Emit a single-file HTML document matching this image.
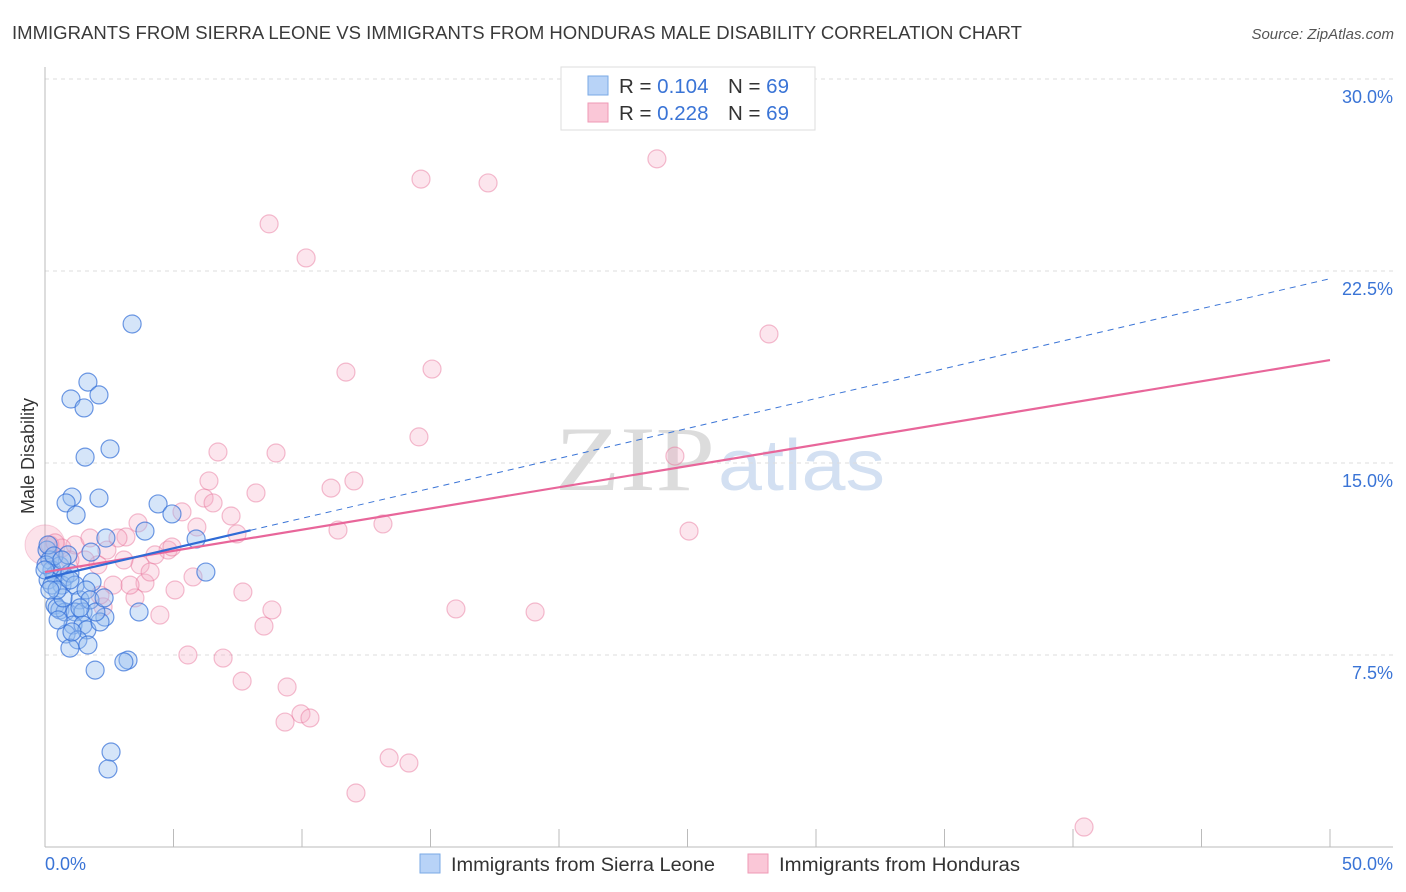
<!DOCTYPE html>
<html><head><meta charset="utf-8">
<style>
body{margin:0;background:#fff;font-family:"Liberation Sans",sans-serif;}
#wrap{position:relative;width:1406px;height:892px;overflow:hidden;}
</style></head>
<body>
<div id="wrap">
<svg id="svg" width="1406" height="892" xmlns="http://www.w3.org/2000/svg">
<text x="12" y="39" font-size="18" fill="#3a3a3a" textLength="1010" lengthAdjust="spacingAndGlyphs">IMMIGRANTS FROM SIERRA LEONE VS IMMIGRANTS FROM HONDURAS MALE DISABILITY CORRELATION CHART</text>
<text x="1394" y="39" font-size="15" fill="#555" font-style="italic" text-anchor="end">Source: ZipAtlas.com</text>
<text x="34" y="456" font-size="18" fill="#333" text-anchor="middle" transform="rotate(-90 34 456)">Male Disability</text>
<g id="watermark">
<text x="555" y="490" font-size="92" fill="#dcdcdc" font-family="Liberation Serif,serif" textLength="160" lengthAdjust="spacingAndGlyphs">ZIP</text>
<text x="718" y="490" font-size="72" fill="#d3e0f2" textLength="167" lengthAdjust="spacingAndGlyphs">atlas</text>
</g>
<g id="grid"></g><g id="axes"></g><g id="pts"></g><g id="lines"></g>
<g>
<rect x="561" y="67" width="254" height="63" fill="#fff" stroke="#ddd"/>
<rect x="588" y="76" width="20" height="19" fill="#b8d3f7" stroke="#7aa9e6"/>
<rect x="588" y="103" width="20" height="19" fill="#fac7d7" stroke="#ef9ab6"/>
<text x="619" y="93" font-size="20.5" fill="#333">R = <tspan fill="#3a74d6">0.104</tspan></text>
<text x="728" y="93" font-size="20.5" fill="#333">N = <tspan fill="#3a74d6">69</tspan></text>
<text x="619" y="120" font-size="20.5" fill="#333">R = <tspan fill="#3a74d6">0.228</tspan></text>
<text x="728" y="120" font-size="20.5" fill="#333">N = <tspan fill="#3a74d6">69</tspan></text>
</g>
<g>
<rect x="420" y="854" width="20" height="19" fill="#b8d3f7" stroke="#7aa9e6"/>
<text x="451" y="871" font-size="19" fill="#333" textLength="264" lengthAdjust="spacingAndGlyphs">Immigrants from Sierra Leone</text>
<rect x="748" y="854" width="20" height="19" fill="#fac7d7" stroke="#ef9ab6"/>
<text x="779" y="871" font-size="19" fill="#333" textLength="241" lengthAdjust="spacingAndGlyphs">Immigrants from Honduras</text>
</g>
</svg>
</div>
<script>
const yTicks=[7.5,15,22.5,30];
const yTickLabels=["7.5%","15.0%","22.5%","30.0%"];
const xTickLabels=["0.0%","50.0%"];
const blueX=[3.39,1.67,1.01,2.1,1.52,2.53,1.56,2.1,1.05,0.82,1.21,4.4,4.94,3.89,2.37,1.79,5.88,6.26,0.08,0.19,0.27,0.39,0.58,0.78,0.12,0.66,0.97,1.17,1.36,1.83,0.39,0.58,0.78,0.47,1.17,1.48,1.09,1.48,1.63,0.82,1.28,1.67,0.97,2.33,2.14,3.66,3.23,3.07,1.95,2.57,2.45,0.27,0.04,0.12,0.7,0.47,0.35,0.89,0.97,1.6,1.75,1.98,2.3,0.51,1.05,1.36,0.66,0,0.19];
const blueY=[20.43,18.16,17.5,17.66,17.15,15.55,15.23,13.63,13.67,13.44,12.97,13.4,13.01,12.34,12.07,11.52,12.03,10.74,11.6,11.21,10.82,10.63,10.98,10.55,10.43,10.23,10.7,10.23,9.65,10.35,9.45,9.26,9.18,9.34,9.18,9.18,8.67,8.67,8.48,8.32,8.09,7.89,7.77,8.98,8.79,9.18,7.3,7.23,6.91,3.71,3.05,10.23,11.02,11.8,9.73,10.04,11.37,11.41,10.43,10.04,9.65,9.18,9.73,8.87,8.4,9.34,11.21,10.82,10.04];
const pinkX=[8.72,10.16,14.63,17.24,23.81,28.17,11.71,15.06,14.55,8.99,6.73,6.38,12.02,11.13,8.21,6.19,5.33,5.91,6.54,7.24,3.62,3.15,7.47,11.4,13.15,25.06,24.51,2.41,4.79,4.94,4.28,3.7,3.07,2.06,1.17,0.66,0.19,0.39,1.56,2.65,3.89,4.09,5.06,5.76,7.7,4.47,2.26,3.5,8.52,8.83,5.56,6.93,7.67,9.42,9.96,10.31,9.34,13.39,14.16,12.1,15.99,19.07,40.43,1.75,2.84,3.31,2.14,0.97,27.5];
const pinkY=[24.34,23.01,26.09,25.94,26.88,20.04,18.55,18.67,16.02,15.39,15.43,14.3,14.3,14.02,13.83,13.63,13.09,12.5,13.44,12.93,12.66,12.11,12.23,12.38,12.62,12.34,15.27,11.6,11.6,11.72,11.41,11.02,11.21,11.02,11.8,11.68,11.8,11.88,11.21,10.23,10.31,10.74,10.04,10.55,9.96,9.06,9.38,9.73,8.63,9.26,7.5,7.38,6.48,6.25,5.2,5.04,4.88,3.48,3.28,2.11,9.3,9.18,0.78,12.07,12.07,10.23,9.84,11.21,28.7];
const blueTrend=[10.5,22.2];
const pinkTrend=[10.74,19.02];
const blueSolidEnd=8;
const NS="http://www.w3.org/2000/svg";
const X=v=>45+v/50*1285;
const Y=v=>847-v*25.6;
function mk(tag,attrs,parent){const e=document.createElementNS(NS,tag);for(const k in attrs)e.setAttribute(k,attrs[k]);parent.appendChild(e);return e;}
const grid=document.getElementById('grid'),axes=document.getElementById('axes'),pts=document.getElementById('pts'),lines=document.getElementById('lines');
yTicks.forEach((t,i)=>{
 const l=mk('line',{x1:45,x2:1393,y1:Y(t),y2:Y(t),stroke:'#ddd','stroke-dasharray':'4,4'},grid);
 
 
 const tx=mk('text',{x:1393,y:Y(t)+24,'font-size':18,fill:'#3a74d6','text-anchor':'end'},axes);
 tx.textContent=yTickLabels[i];
 
 
});
const ax1=mk('line',{x1:45,x2:45,y1:67,y2:847,stroke:'#bbb'},axes);


const ax2=mk('line',{x1:45,x2:1393,y1:847,y2:847,stroke:'#bbb'},axes);


for(let v=5;v<=50;v+=5){
 const tk=mk('line',{x1:X(v),x2:X(v),y1:829,y2:847,stroke:'#bbb'},axes);
 
 
}
[[0,'start',45],[50,'end',1393]].forEach((d,i)=>{
 const tx=mk('text',{x:d[2],y:870,'font-size':18,fill:'#3a74d6','text-anchor':d[1]},axes);
 tx.textContent=xTickLabels[i];
 
 
});
const big=mk('circle',{cx:X(0),cy:Y(11.8),r:20,fill:'rgba(245,160,185,0.3)',stroke:'rgba(230,110,150,0.3)'},pts);


pinkX.forEach((v,i)=>{
 const c=mk('circle',{cx:X(v),cy:Y(pinkY[i]),r:9,fill:'rgba(246,170,195,0.3)',stroke:'rgba(230,110,150,0.45)','stroke-width':1.2},pts);
 
 
});
blueX.forEach((v,i)=>{
 const c=mk('circle',{cx:X(v),cy:Y(blueY[i]),r:9,fill:'rgba(150,190,240,0.4)',stroke:'rgba(50,110,215,0.7)','stroke-width':1.2},pts);
 
 
});
const bAt=x=>blueTrend[0]+(blueTrend[1]-blueTrend[0])*x/50;
const pl=mk('line',{x1:X(0),y1:Y(pinkTrend[0]),x2:X(50),y2:Y(pinkTrend[1]),stroke:'#e8669a','stroke-width':2.2},lines);


const bd=mk('line',{x1:X(blueSolidEnd),y1:Y(bAt(blueSolidEnd)),x2:X(50),y2:Y(bAt(50)),stroke:'#3a74d6','stroke-width':1,'stroke-dasharray':'6,5'},lines);


const bs=mk('line',{x1:X(0),y1:Y(bAt(0)),x2:X(blueSolidEnd),y2:Y(bAt(blueSolidEnd)),stroke:'#2f6bd6','stroke-width':2.2},lines);


</script>
</body></html>
